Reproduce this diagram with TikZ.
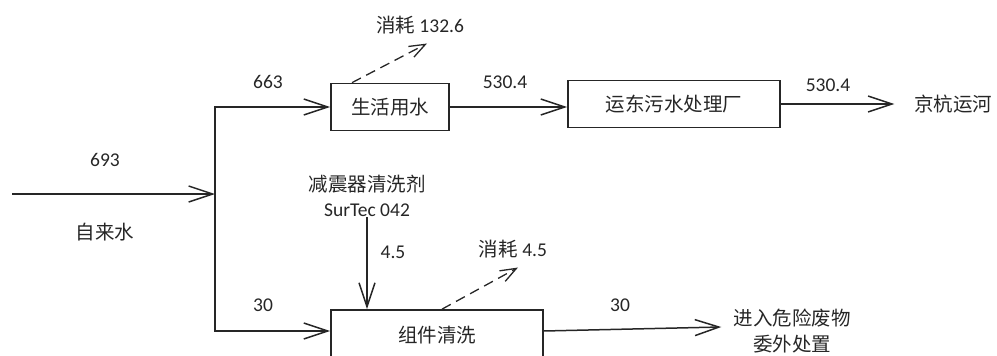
\documentclass[tikz,border=0pt]{standalone}
\usepackage{fontspec}
\setmainfont{Carlito}
\newfontfamily\cjk{Noto Sans CJK SC}
\usetikzlibrary{arrows.meta}
\tikzset{
  >={Straight Barb[length=24pt,width=16pt]},
  every node/.style={font=\fontsize{19.5}{23}\selectfont, text=black!85},
  flow/.style={draw=black!85, line width=1.5pt, ->},
  loss/.style={draw=black!85, line width=1.3pt, dashed, dash pattern=on 10pt off 6pt,
    -{Straight Barb[length=16pt,width=12pt]}},
  unit/.style={draw=black!85, line width=1.7pt, minimum height=\boxh, inner sep=0pt},
}
\begin{document}
\begin{tikzpicture}[x=1pt,y=-1pt]
			\useasboundingbox (0,0) rectangle (997,356);
			\def\boxh{47pt}
			%units
			\node[unit, minimum width=118pt] (life) at (390,107) {\cjk 生活用水};
			\node[unit, minimum width=212pt] (plant) at (674,104) {\cjk 运东污水处理厂};
			\node[unit, minimum width=212pt, minimum height=50pt] (clean) at (437,335) {\cjk 组件清洗};
			%sinks and sources
			\node (river) at (953,104) {\cjk 京杭运河};
			\node[align=center, inner sep=0pt] (waste) at (792,331) {\cjk 进入危险废物\\[3pt]\cjk 委外处置};
			\node[align=center, inner sep=0pt] (agent) at (367,196) {\cjk 减震器清洗剂\\[2pt]SurTec 042};
			\node (use1) at (420,25) {{\cjk 消耗} 132.6};
			\node (use2) at (513,249) {{\cjk 消耗} 4.5};
			\coordinate (src) at (12,194);
			\coordinate (split) at (215,194);
			% tap water in
			\draw[flow] (src) -- (split);
			\node (tap) at (105,160) {693};
			\node (name) at (105,232) {\cjk 自来水};
			% branches
			\draw[flow] (split) |- (life.west);
			\draw[flow] (split) |- ([yshift=4pt]clean.west);
			\node (q1) at (268,82) {663};
			\node (q2) at (263,305) {30};
			% domestic line
			\draw[flow] (life.east) -- (life.east -| plant.west);
			\draw[flow] (plant.east) -- ([xshift=-16pt]river.west);
			\node (q3) at (505,82) {530.4};
			\node (q4) at (828,85) {530.4};
			% cleaning line
			\draw[flow] (agent.south) -- (agent.south |- clean.north);
			\draw[flow] ([yshift=4pt]clean.east) -- ([xshift=-12pt,yshift=4pt]waste.west);
			\node (q5) at (393,252) {4.5};
			\node (q6) at (620,305) {30};
			% losses
			\draw[loss] ([xshift=-38pt]life.north) -- ([xshift=7pt,yshift=-6pt]use1.south);
			\draw[loss] ([xshift=5pt]clean.north) -- ([xshift=5pt,yshift=-6pt]use2.south);
		\end{tikzpicture}
\end{document}
